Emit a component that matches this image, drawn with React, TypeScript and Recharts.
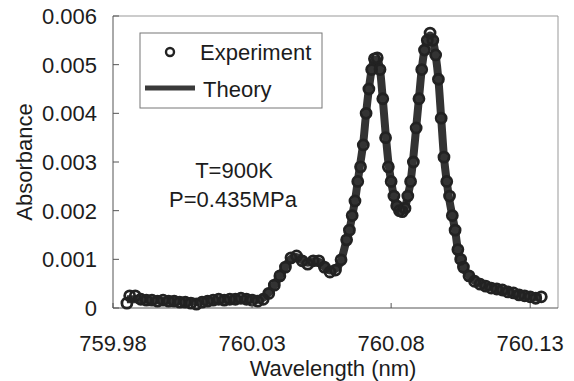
import { ComposedChart, Line, Scatter, XAxis, YAxis, ReferenceLine } from 'recharts'

// wavelength grid (nm) of the measured points
const wavelength = [
  759.985, 759.986, 759.988, 759.99, 759.992, 759.994, 759.996, 759.998, 760.0, 760.002,
  760.004, 760.006, 760.008, 760.01, 760.012, 760.014, 760.016, 760.018, 760.02, 760.022,
  760.024, 760.026, 760.028, 760.03, 760.032, 760.034, 760.036, 760.038, 760.04, 760.042,
  760.044, 760.046, 760.048, 760.05, 760.052, 760.054, 760.056, 760.058, 760.06, 760.062,
  760.064, 760.065, 760.066, 760.067, 760.068, 760.069, 760.07, 760.071, 760.072, 760.073,
  760.074, 760.075, 760.076, 760.077, 760.078, 760.079, 760.08, 760.081, 760.082, 760.083,
  760.084, 760.085, 760.086, 760.087, 760.088, 760.089, 760.09, 760.091, 760.092, 760.093,
  760.094, 760.095, 760.096, 760.097, 760.098, 760.099, 760.1, 760.101, 760.102, 760.103,
  760.104, 760.105, 760.106, 760.108, 760.11, 760.112, 760.114, 760.116, 760.118, 760.12,
  760.122, 760.124, 760.126, 760.128, 760.13, 760.132, 760.134,
]

const experiment = [
  0.0001, 0.00025, 0.00025, 0.00018, 0.00016, 0.00016, 0.00014, 0.00016, 0.00014, 0.00014,
  0.00012, 0.00012, 0.0001, 0.00008, 0.00012, 0.00014, 0.00016, 0.00018, 0.00016, 0.00018,
  0.00018, 0.0002, 0.00018, 0.00016, 0.00014, 0.00018, 0.0003, 0.00047, 0.00066, 0.00084,
  0.00103, 0.00107, 0.00097, 0.0009, 0.00097, 0.00097, 0.00084, 0.00074, 0.00078, 0.00099,
  0.0014, 0.0016, 0.0019, 0.0022, 0.0026, 0.0029, 0.00335, 0.004, 0.0045, 0.0049,
  0.00512, 0.00514, 0.0049, 0.0043, 0.0035, 0.0029, 0.0026, 0.0023, 0.0021, 0.002,
  0.00198, 0.00205, 0.0023, 0.0026, 0.003, 0.0037, 0.0043, 0.0049, 0.0053, 0.0055,
  0.00565, 0.0055, 0.0052, 0.0047, 0.0039, 0.0031, 0.0026, 0.0023, 0.0019, 0.0016,
  0.0012, 0.001, 0.00084, 0.00066, 0.00055, 0.00049, 0.00045, 0.00041, 0.00039, 0.00037,
  0.00033, 0.00031, 0.00027, 0.00025, 0.00023, 0.0002, 0.00023,
]

const theory = [
  0.00018, 0.00018, 0.00018, 0.00017, 0.00017, 0.00016, 0.00016, 0.00015, 0.00015, 0.00015,
  0.00014, 0.00014, 0.00013, 0.00013, 0.00014, 0.00015, 0.00016, 0.00016, 0.00017, 0.00017,
  0.00018, 0.00018, 0.00018, 0.00017, 0.00017, 0.00021, 0.00031, 0.00047, 0.00066, 0.00085,
  0.00101, 0.00105, 0.00098, 0.00093, 0.00096, 0.00095, 0.00085, 0.00077, 0.0008, 0.00098,
  0.0014, 0.0016, 0.0019, 0.0022, 0.0026, 0.003, 0.0034, 0.004, 0.0045, 0.0049,
  0.0051, 0.0051, 0.0049, 0.0043, 0.0036, 0.003, 0.0026, 0.0023, 0.0021, 0.002,
  0.002, 0.00207, 0.0023, 0.0026, 0.0031, 0.0037, 0.0043, 0.0049, 0.0053, 0.0055,
  0.0056, 0.0055, 0.0052, 0.0047, 0.0039, 0.0031, 0.0026, 0.0022, 0.0019, 0.0016,
  0.0012, 0.001, 0.00084, 0.00066, 0.00056, 0.0005, 0.00045, 0.00042, 0.00039, 0.00036,
  0.00033, 0.0003, 0.00027, 0.00025, 0.00023, 0.00022, 0.00021,
]

const xTicks = [759.98, 760.03, 760.08, 760.13]
const yTicks = [0, 0.001, 0.002, 0.003, 0.004, 0.005, 0.006]

const expData = wavelength.map((x, i) => ({ x, y: experiment[i] }))
const theoryData = wavelength.map((x, i) => ({ x, y: theory[i] }))

const FONT = '"Liberation Sans", Arial, sans-serif'
const INK = '#1c1c1c'
const AXIS = '#555'

function XTick(props: any) {
  const { x, y, payload } = props
  return (
    <g>
      <line x1={x} x2={x} y1={y} y2={y - 5} stroke={AXIS} />
      <text x={x} y={y + 43} textAnchor="middle" fontFamily={FONT} fontSize={22} fill={INK}>
        {payload.value}
      </text>
    </g>
  )
}

function YTick(props: any) {
  const { x, y, payload } = props
  return (
    <g>
      <line x1={x} x2={x + 6} y1={y} y2={y} stroke={AXIS} />
      <text x={x - 16} y={y + 8} textAnchor="end" fontFamily={FONT} fontSize={22} fill={INK}>
        {payload.value}
      </text>
    </g>
  )
}

function Ring(props: any) {
  const { cx, cy } = props
  return <circle cx={cx} cy={cy} r={5} fill="none" stroke="#222" strokeWidth={2.8} />
}

export default function App() {
  return (
    <div style={{ position: 'relative', width: 566, height: 381, marginTop: -8 }}>
      <ComposedChart width={566} height={381} margin={{ top: 16, right: 16, left: 0, bottom: 0 }}>
        <XAxis
          dataKey="x"
          type="number"
          domain={[759.98, 760.14]}
          ticks={xTicks}
          interval={0}
          height={73}
          tickSize={0}
          tickMargin={0}
          tickLine={false}
          tick={<XTick />}
          axisLine={{ stroke: AXIS }}
        />
        <YAxis
          type="number"
          domain={[0, 0.006]}
          ticks={yTicks}
          interval={0}
          width={105}
          tickSize={0}
          tickMargin={0}
          tickLine={false}
          tick={<YTick />}
          axisLine={{ stroke: AXIS }}
        />
        <ReferenceLine y={0.006} stroke="#999" />
        <ReferenceLine x={760.14} stroke="#999" />
        <Line
          data={theoryData}
          dataKey="y"
          type="monotone"
          stroke="#333"
          strokeWidth={8}
          dot={false}
          isAnimationActive={false}
        />
        <Scatter data={expData} dataKey="y" shape={<Ring />} isAnimationActive={false} />
      </ComposedChart>
      <svg
        width={566}
        height={381}
        style={{ position: 'absolute', left: 0, top: 0, pointerEvents: 'none' }}
        fontFamily={FONT}
        fontSize={22}
        fill={INK}
      >
        <rect x={132} y={33} width={182} height={75} fill="#fff" stroke="#777" />
        <circle cx={162} cy={52} r={4} fill="none" stroke="#222" strokeWidth={2.4} />
        <text x={192} y={60}>Experiment</text>
        <line x1={137} x2={187} y1={88} y2={88} stroke="#3a3a3a" strokeWidth={5} />
        <text x={195} y={97}>Theory</text>
        <text x={226} y={178} textAnchor="middle">T=900K</text>
        <text x={225} y={207} textAnchor="middle">P=0.435MPa</text>
        <text x={325} y={376} textAnchor="middle">Wavelength (nm)</text>
        <text x={24} y={162} textAnchor="middle" transform="rotate(-90 24 162)">
          Absorbance
        </text>
      </svg>
    </div>
  )
}
